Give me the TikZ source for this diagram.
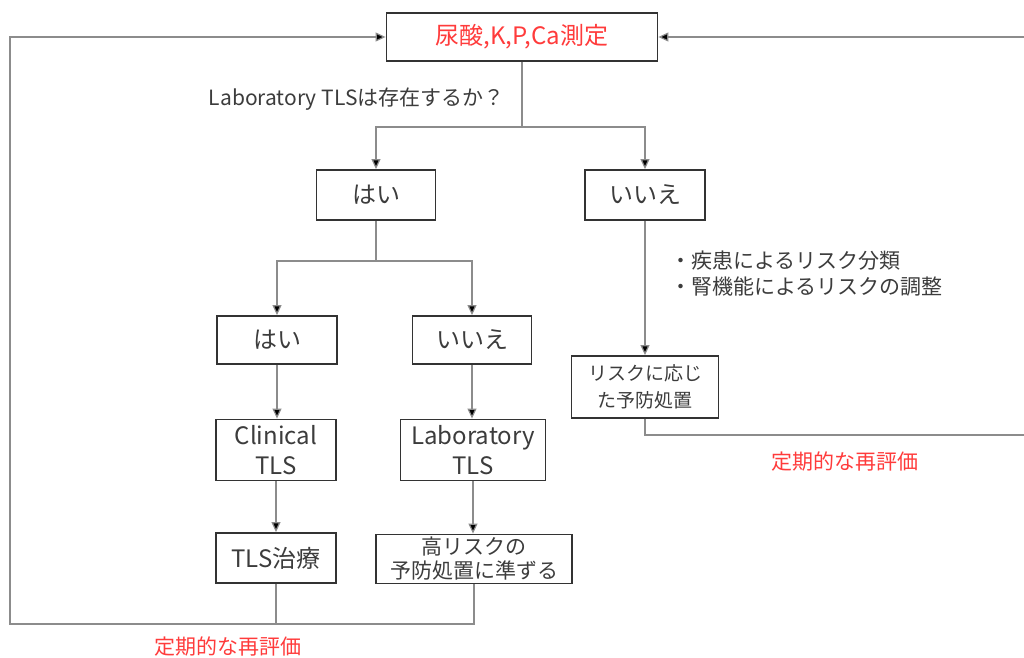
\documentclass[tikz,border=0pt]{standalone}
\usepackage{fontspec}
\setmainfont{Noto Sans CJK JP}
\usetikzlibrary{arrows.meta}
\definecolor{redtxt}{HTML}{FF3B3B}
\definecolor{linegray}{HTML}{8C8C8C}
\definecolor{txtgray}{HTML}{3C3C3C}

\begin{document}
\begin{tikzpicture}[x=0.5pt,y=-0.5pt,
	box/.style={draw=black!80,line width=0.9pt,inner sep=0pt,align=center,text=txtgray},
	conn/.style={draw=linegray,line width=0.6pt},
	arr/.style={conn,-{Triangle[length=5pt,width=4.5pt,fill=black]}},
	lbl/.style={text=txtgray,inner sep=0pt}]
	\useasboundingbox (0,0) rectangle (1024,658);
	% top box
	\node[box,minimum width=135.5pt,minimum height=24pt,text=redtxt,
	font=\fontsize{12}{14}\selectfont] (meas) at (522,37) {尿酸,K,P,Ca測定};
	\node[lbl,anchor=east,font=\fontsize{10.5}{12}\selectfont] (quest) at (505,99) {Laboratory TLSは存在するか？};
	% first split
	\coordinate (sp1) at (522,127);
	\node[box,minimum width=59.5pt,minimum height=25pt,font=\fontsize{12}{14}\selectfont] (yes1) at (376,195) {はい};
	\node[box,minimum width=60pt,minimum height=25pt,font=\fontsize{12}{14}\selectfont] (no1) at (645,195) {いいえ};
	\draw[conn] (meas.south)--(sp1);
	\draw[arr] (sp1)-|(yes1.north);
	\draw[arr] (sp1)-|(no1.north);
	% second split
	\coordinate (sp2) at (376,261);
	\node[box,minimum width=60pt,minimum height=24pt,font=\fontsize{12}{14}\selectfont] (yes2) at (277,340) {はい};
	\node[box,minimum width=59.5pt,minimum height=24pt,font=\fontsize{12}{14}\selectfont] (no2) at (472,340) {いいえ};
	\draw[conn] (yes1.south)--(sp2);
	\draw[arr] (sp2)-|(yes2.north);
	\draw[arr] (sp2)-|(no2.north);
	\node[box,minimum width=60pt,minimum height=30.5pt,font=\fontsize{12}{15}\selectfont] (clin) at (276,450) {Clinical\\TLS};
	\node[box,minimum width=72.5pt,minimum height=30.5pt,font=\fontsize{12}{15}\selectfont] (lab) at (473,450) {Laboratory\\TLS};
	\draw[arr] (yes2.south)--(yes2.south|-clin.north);
	\draw[arr] (no2.south)--(no2.south|-lab.north);
	\node[box,minimum width=60pt,minimum height=25pt,font=\fontsize{12}{14}\selectfont] (treat) at (276,558) {TLS治療};
	\node[box,minimum width=98pt,minimum height=24.5pt,font=\fontsize{10.5}{12}\selectfont] (prev) at (474,559) {高リスクの\\予防処置に準ずる};
	\draw[arr] (clin.south)--(clin.south|-treat.north);
	\draw[arr] (lab.south)--(lab.south|-prev.north);
	% right branch
	\node[lbl,anchor=west,align=left,font=\fontsize{10.5}{13}\selectfont] (note) at (670,274) {・疾患によるリスク分類\\・腎機能によるリスクの調整};
	\node[box,minimum width=73.5pt,minimum height=31pt,font=\fontsize{9.5}{13.5}\selectfont] (riskp) at (645,387) {リスクに応じ\\た予防処置};
	\draw[arr] (no1.south)--(riskp.north);
	% re-evaluation loops
	\coordinate (bl) at (10,624);
	\coordinate (tl) at (10,37);
	\coordinate (rb) at (1026,435);
	\coordinate (rt) at (1026,37);
	\draw[conn] (treat.south)--(treat.south|-bl);
	\draw[arr] (prev.south)|-(bl)--(tl)--(meas.west);
	\draw[arr] (riskp.south)|-(rb)--(rt)--(meas.east);
	\node[text=redtxt,font=\fontsize{10.5}{12}\selectfont] (eval1) at (228,647) {定期的な再評価};
	\node[text=redtxt,font=\fontsize{10.5}{12}\selectfont] (eval2) at (845,462) {定期的な再評価};
\end{tikzpicture}
\end{document}
